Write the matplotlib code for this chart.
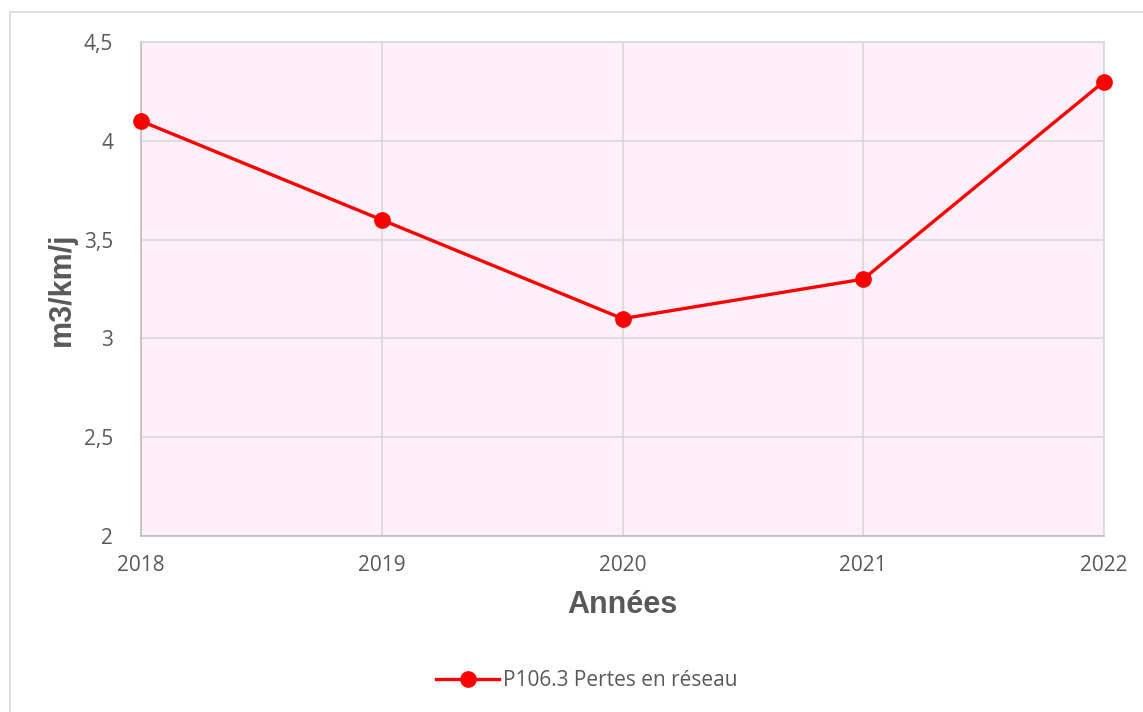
import numpy as np
import matplotlib.pyplot as plt
from matplotlib.patches import Rectangle

# data
years = ['2018', '2019', '2020', '2021', '2022']
pertes = [4.1, 3.6, 3.1, 3.3, 4.3]
y_ticks = [2, 2.5, 3, 3.5, 4, 4.5]
y_labels = ['2', '2,5', '3', '3,5', '4', '4,5']

plt.rcParams['font.family'] = ['Open Sans', 'DejaVu Sans']
gray = '#595959'

fig = plt.figure(figsize=(11.43, 7.12), dpi=100)
# outer chart frame
fig.patches.append(Rectangle((10 / 1143, -0.05), 1.2, 1 - 12 / 712 + 0.05,
                             transform=fig.transFigure, fill=False,
                             edgecolor='#D9D9D9', linewidth=1.2))

ax = fig.add_axes([141 / 1143, 1 - 536 / 712, (1104 - 141) / 1143, (536 - 42) / 712])
ax.set_facecolor('#FDF0FA')

x = np.arange(len(years))
ax.plot(x, pertes, color='#FF0000', linewidth=2.4, marker='o', markersize=11,
        label='P106.3 Pertes en réseau', zorder=3, clip_on=False)

ax.set_xlim(0, len(years) - 1)
ax.set_ylim(2, 4.5)
ax.set_xticks(x)
ax.set_xticklabels(years)
ax.set_yticks(y_ticks)
ax.set_yticklabels(y_labels)
ax.tick_params(length=0, labelsize=15, colors=gray)
ax.tick_params(axis='x', pad=14)
ax.tick_params(axis='y', pad=20)

ax.grid(True, color='#D9D9D9', linewidth=1.2)
ax.set_axisbelow(True)
for s in ax.spines.values():
    s.set_color('#D9D9D9')
    s.set_linewidth(1.2)
ax.spines['left'].set_color('#BFBFBF')
ax.spines['bottom'].set_color('#BFBFBF')

ax.set_xlabel('Années', fontsize=22, fontweight='bold', color=gray,
              family='Liberation Sans')
ax.set_ylabel('m3/km/j', fontsize=22, fontweight='bold', color=gray,
              family='Liberation Sans')
ax.xaxis.set_label_coords(0.5, (536 - 590) / 494)
ax.yaxis.set_label_coords((77 - 141) / 963, 0.5)

fig.legend(loc='center', bbox_to_anchor=(587 / 1143, 1 - 681 / 712), frameon=False,
           fontsize=15, labelcolor=gray, handlelength=3, handletextpad=0.2)

fig.savefig('out.png', dpi=100)
